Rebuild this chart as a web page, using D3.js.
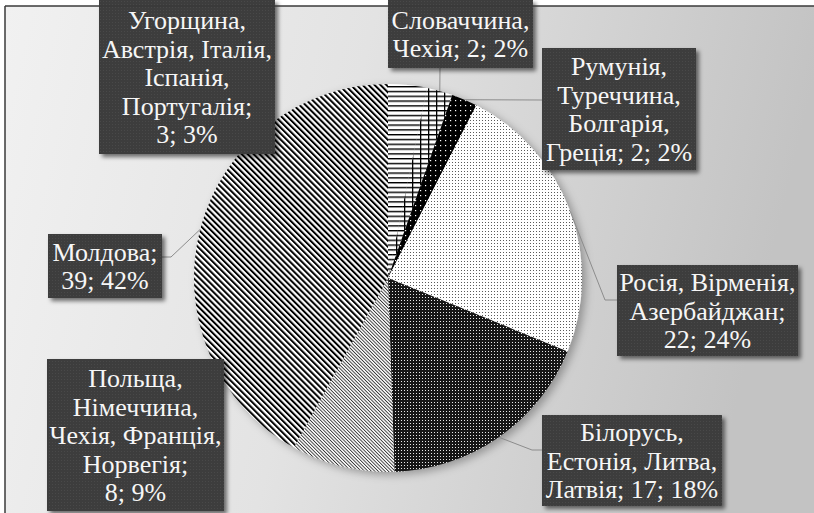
<!DOCTYPE html>
<html lang="uk"><head><meta charset="utf-8">
<script src="https://cdn.jsdelivr.net/npm/d3@7"></script>
</head><body style="margin:0">
<script>
// ---- data ----
const categories = [
  "Угорщина, Австрія, Італія, Іспанія, Португалія",
  "Словаччина, Чехія",
  "Румунія, Туреччина, Болгарія, Греція",
  "Росія, Вірменія, Азербайджан",
  "Білорусь, Естонія, Литва, Латвія",
  "Польща, Німеччина, Чехія, Франція, Норвегія",
  "Молдова"
];
const values = [3, 2, 2, 22, 17, 8, 39];
// words per wrapped label line
const lineWords = [[1,2,1,1,2],[1,3],[1,1,1,3],[2,1,2],[1,2,3],[1,1,2,1,2],[1,2]];
const patternIds = ["pHoriz","pGrid","pBlackDots","pDots","pDark","pFineDiag","pWideDiag"];

// ---- layout ----
const W = 814, H = 513;
const cx = 388, cy = 278, R = 194;
const boxes = [
  {x:99, y:0,   w:176, h:154},
  {x:388,y:0,   w:145, h:68},
  {x:542,y:48,  w:154, h:122},
  {x:617,y:265, w:181, h:91},
  {x:542,y:415, w:180, h:91},
  {x:47, y:359, w:177, h:152},
  {x:48, y:234, w:114, h:64}
];
const leaderElbows = [null, [[440,68]], [[542,100]], [[605,300],[617,300]], [[532,450],[542,450]], null, [[171,257],[162,257]]];
const fontSize = 26, lineH = 28.5;

const svg = d3.select("body").append("svg").attr("width", W).attr("height", H).style("display","block");
const defs = svg.append("defs");

const lg = defs.append("linearGradient").attr("id","bg").attr("x1","0").attr("y1","0").attr("x2","1").attr("y2","0.15");
lg.append("stop").attr("offset","0").attr("stop-color","#f1f1f1");
lg.append("stop").attr("offset","0.45").attr("stop-color","#e3e3e3");
lg.append("stop").attr("offset","1").attr("stop-color","#c3c3c3");

const f1 = defs.append("filter").attr("id","boxShadow").attr("x","-10%").attr("y","-10%").attr("width","130%").attr("height","130%");
f1.append("feDropShadow").attr("dx",3).attr("dy",3).attr("stdDeviation",2).attr("flood-color","#000").attr("flood-opacity",0.55);
const f2 = defs.append("filter").attr("id","pieShadow").attr("x","-10%").attr("y","-10%").attr("width","130%").attr("height","130%");
f2.append("feDropShadow").attr("dx",4).attr("dy",3).attr("stdDeviation",4).attr("flood-color","#000").attr("flood-opacity",0.3);

function pat(id, w, h, transform) {
  const p = defs.append("pattern").attr("id", id).attr("patternUnits","userSpaceOnUse")
    .attr("width", w).attr("height", h);
  if (transform) p.attr("patternTransform", transform);
  return p;
}
let p;
p = pat("pHoriz", 8, 4.8);
p.append("rect").attr("width",8).attr("height",4.8).attr("fill","#fff");
p.append("rect").attr("y",0).attr("width",8).attr("height",1.4).attr("fill","#000");
p = pat("pGrid", 8, 4.8);
p.append("rect").attr("width",8).attr("height",4.8).attr("fill","#fff");
p.append("rect").attr("width",8).attr("height",1.4).attr("fill","#000");
p.append("rect").attr("x",0).attr("width",1.3).attr("height",4.8).attr("fill","#000");
p = pat("pBlackDots", 5, 5);
p.append("rect").attr("width",5).attr("height",5).attr("fill","#000");
p.append("rect").attr("x",2).attr("y",2).attr("width",1.2).attr("height",1.2).attr("fill","#fff");
p = pat("pDots", 3, 3);
p.append("rect").attr("width",3).attr("height",3).attr("fill","#fff");
p.append("rect").attr("x",1).attr("y",1).attr("width",1).attr("height",1).attr("fill","#5a5a5a");
p = pat("pDark", 3, 3);
p.append("rect").attr("width",3).attr("height",3).attr("fill","#151515");
p.append("rect").attr("x",1).attr("y",1).attr("width",1).attr("height",1).attr("fill","#e8e8e8");
p = pat("pFineDiag", 2.4, 2.4, "rotate(-45)");
p.append("rect").attr("width",2.4).attr("height",2.4).attr("fill","#fff");
p.append("rect").attr("width",0.9).attr("height",2.4).attr("fill","#333");
p = pat("pWideDiag", 4.2, 4.2, "rotate(-45)");
p.append("rect").attr("width",4.2).attr("height",4.2).attr("fill","#fff");
p.append("rect").attr("width",2).attr("height",4.2).attr("fill","#000");
p = pat("pBox", 3, 3);
p.append("rect").attr("width",3).attr("height",3).attr("fill","#3e3e3e");
p.append("rect").attr("x",1).attr("y",1).attr("width",1).attr("height",1).attr("fill","#4a4a4a");

svg.append("rect").attr("x",5).attr("y",6).attr("width",W-5).attr("height",H-6).attr("fill","url(#bg)");

const total = d3.sum(values);
const pie = d3.pie().sort(null).value(d => d).startAngle(0).endAngle(2*Math.PI);
const arcs = pie(values);
const arc = d3.arc().innerRadius(0).outerRadius(R);
const gPie = svg.append("g").attr("transform",`translate(${cx},${cy})`).attr("filter","url(#pieShadow)");
gPie.selectAll("path").data(arcs).join("path")
  .attr("d", arc)
  .attr("fill", (d,i) => `url(#${patternIds[i]})`);

const edgeArc = d3.arc().innerRadius(R).outerRadius(R);
arcs.forEach((d,i) => {
  if (!leaderElbows[i]) return;
  const c = edgeArc.centroid(d);
  const pts = [[cx + c[0], cy + c[1]], ...leaderElbows[i]];
  svg.append("path").attr("d", d3.line()(pts)).attr("fill","none")
    .attr("stroke","#8c8c8c").attr("stroke-width",1);
});

arcs.forEach((d,i) => {
  const b = boxes[i];
  svg.append("rect").attr("x",b.x).attr("y",b.y).attr("width",b.w).attr("height",b.h)
    .attr("fill","url(#pBox)").attr("filter","url(#boxShadow)");
});
arcs.forEach((d,i) => {
  const b = boxes[i];
  const pct = Math.round(values[i] / total * 100);
  const words = `${categories[i]}; ${values[i]}; ${pct}%`.split(" ");
  const lines = [];
  let k = 0;
  lineWords[i].forEach(n => { lines.push(words.slice(k, k+n).join(" ")); k += n; });
  const mid = b.y + b.h/2;
  lines.forEach((ln,j) => {
    svg.append("text")
      .attr("x", b.x + b.w/2)
      .attr("y", mid + (j - (lines.length-1)/2)*lineH + fontSize*0.35)
      .attr("text-anchor","middle")
      .style("font-family", '"Liberation Serif"')
      .style("font-size", fontSize + "px")
      .attr("fill","#f6f6f6")
      .text(ln);
  });
});

svg.append("line").attr("x1",5).attr("y1",6).attr("x2",W).attr("y2",6).attr("stroke","#3a3a3a").attr("stroke-width",1.5);
svg.append("line").attr("x1",5).attr("y1",6).attr("x2",5).attr("y2",H).attr("stroke","#3a3a3a").attr("stroke-width",1.5);
</script>
</body></html>
